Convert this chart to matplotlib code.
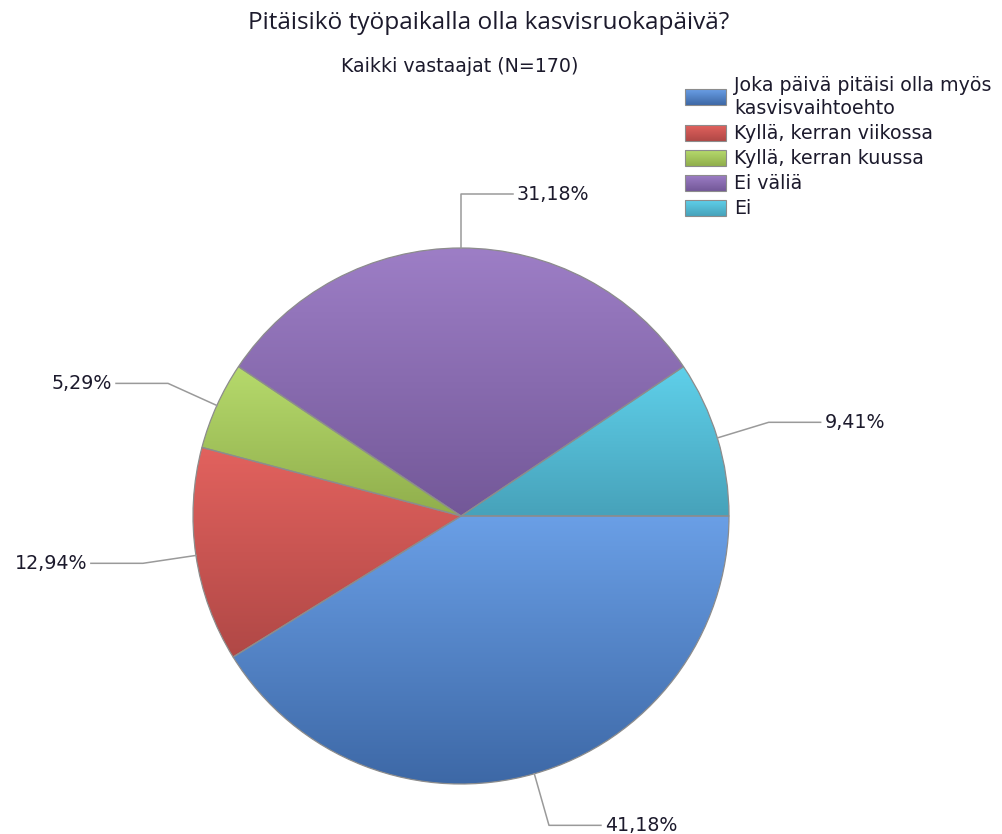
import matplotlib.pyplot as plt
import numpy as np
from matplotlib.colors import LinearSegmentedColormap
from matplotlib.patches import Rectangle

labels = ['Joka päivä pitäisi olla myös\nkasvisvaihtoehto',
          'Kyllä, kerran viikossa',
          'Kyllä, kerran kuussa',
          'Ei väliä',
          'Ei']
shares = [41.18, 12.94, 5.29, 31.18, 9.41]
top_colors = ['#6a9fe6', '#e2625e', '#b6da6c', '#9d7ec6', '#5fd0ea']
bottom_colors = ['#3d68a6', '#b04846', '#90ae4c', '#735898', '#47a2ba']

title = 'Pitäisikö työpaikalla olla kasvisruokapäivä?'
subtitle = 'Kaikki vastaajat (N=170)'

W, H = 1002, 834
cx, cy, R = 461, 516, 268
TXT = '#1c1a2c'
FS = 13.7

fig = plt.figure(figsize=(W / 100, H / 100), dpi=100)
ax = fig.add_axes([0, 0, 1, 1])

# y axis goes downwards, so counterclock in data = clockwise on screen
wedges, _ = ax.pie(shares, center=(cx, cy), radius=R, startangle=0,
                   counterclock=True, frame=True,
                   wedgeprops=dict(edgecolor='#8c8c8c', linewidth=0.9))


def fill_gradient(patch, c0, c1):
    ext = patch.get_path().transformed(patch.get_patch_transform()).get_extents() \
        if isinstance(patch, Rectangle) else patch.get_path().get_extents()
    cmap = LinearSegmentedColormap.from_list('g', [c0, c1])
    grad = np.linspace(0, 1, 256).reshape(-1, 1)
    im = ax.imshow(grad, cmap=cmap, aspect='auto', origin='upper',
                   extent=(ext.x0, ext.x1, ext.y1, ext.y0),
                   zorder=patch.get_zorder() - 0.5, interpolation='bilinear')
    im.set_clip_path(patch)
    patch.set_facecolor('none')


# vertical gradient in each slice
for w, c0, c1 in zip(wedges, top_colors, bottom_colors):
    w.set_zorder(2)
    fill_gradient(w, c0, c1)

# leader lines and percent labels
for w, v in zip(wedges, shares):
    ang = np.deg2rad((w.theta1 + w.theta2) / 2)
    ca, sa = np.cos(ang), np.sin(ang)
    x0, y0 = cx + R * ca, cy + R * sa
    x1, y1 = cx + 1.2 * R * ca, cy + 1.2 * R * sa
    side = 1 if ca >= -1e-6 else -1
    x2 = x1 + side * 52
    ax.plot([x0, x1, x2], [y0, y1, y1], color='#9a9a9a', lw=1.1, zorder=3)
    ax.text(x2 + side * 4, y1, f'{v:.2f}%'.replace('.', ','),
            ha='left' if side > 0 else 'right', va='center',
            fontsize=FS, color=TXT)

# legend
ys = [97, 133, 158, 183, 208]
for lab, y, c0, c1 in zip(labels, ys, top_colors, bottom_colors):
    box = Rectangle((685, y - 8), 41, 16, edgecolor='#8c8c8c', lw=0.8,
                    zorder=5)
    ax.add_patch(box)
    fill_gradient(box, c0, c1)
    ax.text(734, y, lab, va='center', ha='left', fontsize=FS, color=TXT,
            linespacing=1.25)

ax.set_xlim(0, W)
ax.set_ylim(H, 0)
ax.axis('off')

fig.text(488.5 / W, 1 - 23 / H, title, ha='center', va='center',
         fontsize=17.6, family='Open Sans', color=TXT)
fig.text(460 / W, 1 - 67 / H, subtitle, ha='center', va='center',
         fontsize=FS, color=TXT)

fig.savefig('out.png', dpi=100, facecolor='white')
